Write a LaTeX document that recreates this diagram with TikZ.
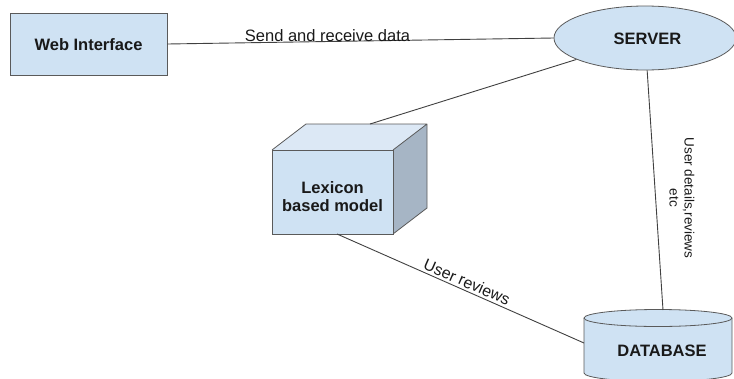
\documentclass[tikz,border=0pt]{standalone}
\usepackage{fontspec}
\setmainfont{Liberation Sans}
\usetikzlibrary{shapes.geometric}
\definecolor{lb}{HTML}{CFE2F3}
\definecolor{lbtop}{HTML}{DCE8F5}
\definecolor{lbside}{HTML}{A6B5C5}
\definecolor{edge}{HTML}{5A5A5A}
\tikzset{
  shapebox/.style={draw=edge, fill=lb, line width=0.8pt},
  conn/.style={draw=black!75, line width=0.9pt},
  boldtxt/.style={font=\fontsize{16.5}{18}\selectfont\bfseries, text=black!90, align=center, inner sep=0pt},
  lbltxt/.style={font=\fontsize{16.5}{18}\selectfont, text=black!90, inner sep=0pt},
}
\begin{document}
\begin{tikzpicture}[x=1pt,y=1pt]
\useasboundingbox (0,0) rectangle (734,-378);
% Web interface
\node[shapebox, rectangle, minimum width=157, minimum height=62, inner sep=0pt] (web) at (88.5,-44) {};
\node[boldtxt] (webtxt) at (88.5,-44.5) {Web Interface};
% Server
\node[shapebox, ellipse, minimum width=182, minimum height=64, inner sep=0pt] (srv) at (645,-38) {};
\node[boldtxt] (srvtxt) at (647.5,-39) {SERVER};
% Cube
\coordinate (cfl) at (272,-150);
\coordinate (cfr) at (393,-150);
\coordinate (cbl) at (306,-124);
\coordinate (cbr) at (427,-124);
\coordinate (cbb) at (427,-208);
\coordinate (cfb) at (393,-234);
\fill[lbtop] (cfl) -- (cbl) -- (cbr) -- (cfr) -- cycle;
\fill[lbside] (cfr) -- (cbr) -- (cbb) -- (cfb) -- cycle;
\draw[edge, line width=0.8pt, line join=round] (cfl) -- (cbl) -- (cbr) -- (cfr) (cbr) -- (cbb) -- (cfb);
\node[shapebox, rectangle, minimum width=121, minimum height=84, inner sep=0pt] (lex) at (332.5,-192) {};
\node[boldtxt] (lextxt) at (332.5,-197) {Lexicon\\based model};
\coordinate (lextop) at (370,-124);
\coordinate (lexbot) at (337,-234);
% Database
\fill[lb] (584,-318) -- (584,-373) arc[start angle=180, end angle=360, x radius=74, y radius=8.5] -- (732,-318) arc[start angle=0, end angle=180, x radius=74, y radius=8.5] -- cycle;
\draw[edge, line width=0.8pt] (584,-318) -- (584,-373) arc[start angle=180, end angle=360, x radius=74, y radius=8.5] -- (732,-318) arc[start angle=0, end angle=180, x radius=74, y radius=8.5];
\draw[edge, line width=0.8pt] (584,-318) arc[start angle=180, end angle=360, x radius=74, y radius=8.5];
\node[boldtxt] (dbtxt) at (662,-351) {DATABASE};
\coordinate (dbtop) at (663,-310);
\coordinate (dbleft) at (584,-343);
% Connectors
\draw[conn] (web.east) -- (srv.west);
\draw[conn] (srv) -- (lextop);
\draw[conn] (srv) -- (dbtop);
\draw[conn] (lexbot) -- (dbleft);
% Labels
\node[lbltxt, anchor=base] (l1) at (327.5,-41) {Send and receive data};
\node[lbltxt, font=\fontsize{16}{18}\selectfont, rotate=-23.8] (l2) at (467,-282) {User reviews};
\node[lbltxt, font=\fontsize{13.5}{15}\selectfont, rotate=-90, align=center] (l3) at (682,-198) {User details,reviews\\etc};
\end{tikzpicture}
\end{document}
